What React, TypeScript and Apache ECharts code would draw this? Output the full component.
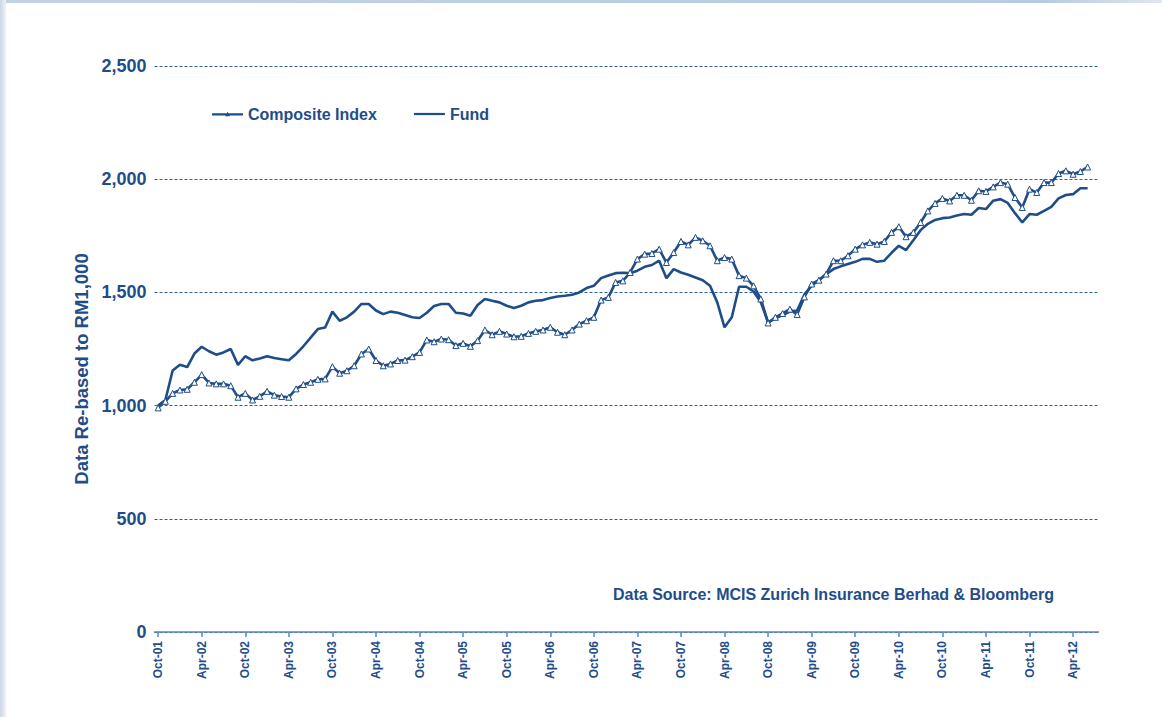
import React, { useEffect, useRef } from "react";
import * as echarts from "echarts";

const MONTH_NAMES = ["Jan", "Feb", "Mar", "Apr", "May", "Jun", "Jul", "Aug", "Sep", "Oct", "Nov", "Dec"];
// Monthly categories from Oct-01 to Jul-12 (last one has no data)
const START_YEAR = 2001;
const START_MONTH = 9;
const CATEGORY_COUNT = 130;
const categories: string[] = [];
for (let i = 0; i < CATEGORY_COUNT; i++) {
  const m = (START_MONTH + i) % 12;
  const y = START_YEAR + Math.floor((START_MONTH + i) / 12);
  categories.push(`${MONTH_NAMES[m]}-${String(y % 100).padStart(2, "0")}`);
}

const compositeIndex = [
  990, 1019, 1054, 1069, 1072, 1103, 1137, 1100, 1096, 1096, 1088, 1037,
  1054, 1025, 1041, 1063, 1046, 1040, 1037, 1074, 1093, 1103, 1116, 1118,
  1172, 1143, 1154, 1176, 1228, 1250, 1199, 1176, 1184, 1199, 1201, 1216,
  1235, 1290, 1282, 1294, 1291, 1265, 1275, 1262, 1287, 1334, 1313, 1328,
  1316, 1304, 1306, 1319, 1328, 1334, 1346, 1324, 1313, 1334, 1360, 1375,
  1390, 1466, 1478, 1544, 1551, 1588, 1647, 1669, 1672, 1691, 1632, 1676,
  1725, 1710, 1743, 1728, 1706, 1640, 1654, 1647, 1574, 1563, 1529, 1471,
  1365, 1390, 1407, 1426, 1402, 1480, 1537, 1554, 1581, 1640, 1640, 1662,
  1691, 1710, 1721, 1713, 1725, 1765, 1790, 1746, 1765, 1809, 1860, 1893,
  1915, 1904, 1929, 1929, 1907, 1949, 1946, 1966, 1985, 1978, 1919, 1875,
  1956, 1941, 1985, 1985, 2025, 2037, 2022, 2034, 2054,
];

const fund = [
  1000, 1025, 1155, 1180, 1170, 1230, 1260, 1240, 1225, 1235, 1250, 1180,
  1218, 1200, 1208, 1218, 1210, 1205, 1200, 1228, 1262, 1300, 1338, 1345,
  1415, 1375, 1390, 1415, 1449, 1449, 1420, 1404, 1415, 1410, 1400, 1390,
  1387, 1410, 1440, 1449, 1449, 1410, 1407, 1397, 1444, 1471, 1463, 1456,
  1441, 1431, 1441, 1456, 1463, 1466, 1475, 1482, 1485, 1490, 1500, 1519,
  1529, 1563, 1575, 1585, 1587, 1585, 1596, 1613, 1621, 1640, 1563, 1603,
  1588, 1578, 1566, 1554, 1529, 1456, 1346, 1390, 1525, 1525, 1504, 1456,
  1368, 1385, 1400, 1415, 1420, 1490, 1530, 1555, 1580, 1603, 1615, 1625,
  1635, 1648, 1648, 1635, 1640, 1675, 1706, 1687, 1730, 1775, 1803, 1820,
  1828, 1831, 1840, 1846, 1843, 1873, 1868, 1905, 1912, 1895, 1850, 1809,
  1846, 1843, 1860, 1878, 1915, 1930, 1934, 1960, 1960,
];

const Y_MIN = 0;
const Y_MAX = 2500;
const Y_INTERVAL = 500;

const SERIES_NAMES = ["Composite Index", "Fund"];
const Y_AXIS_TITLE = "Data Re-based to RM1,000";
const SOURCE_NOTE = "Data Source: MCIS Zurich Insurance Berhad & Bloomberg";

const NAVY = "#1f4d8a";
const FONT = "'Liberation Sans', Arial, sans-serif";

export default function App() {
  const ref = useRef<HTMLDivElement>(null);

  useEffect(() => {
    if (!ref.current) return;
    const chart = echarts.init(ref.current, undefined, { renderer: "svg" });
    chart.setOption({
      animation: false,
      backgroundColor: "#ffffff",
      textStyle: { fontFamily: FONT },
      grid: { left: 154.5, right: 63.5, top: 66, bottom: 85, containLabel: false },
      legend: {
        left: 212,
        top: 106,
        padding: 0,
        itemWidth: 31,
        itemHeight: 10,
        itemGap: 37,
        data: [
          {
            name: SERIES_NAMES[0],
            icon: "path://M0,4 H31 V6.2 H0 Z M13.2,7 L15.5,2.5 L17.8,7 Z",
            itemStyle: { color: NAVY, borderWidth: 0 },
          },
          {
            name: SERIES_NAMES[1],
            icon: "path://M0,0 H31 V2.2 H0 Z",
            itemStyle: { color: NAVY, borderWidth: 0 },
          },
        ],
        textStyle: { fontSize: 16, fontWeight: "bold", color: NAVY, fontFamily: FONT },
      },
      xAxis: {
        type: "category",
        data: categories,
        boundaryGap: true,
        axisLine: { show: true, lineStyle: { color: "#5b87bb", width: 1.5 } },
        axisTick: { show: true, alignWithLabel: true, interval: 5, length: 5, lineStyle: { color: "#5b87bb", width: 1.5 } },
        axisLabel: {
          interval: 5,
          rotate: 90,
          margin: 9,
          fontSize: 12,
          fontWeight: "bold",
          color: NAVY,
          fontFamily: FONT,
        },
        splitLine: { show: false },
      },
      yAxis: {
        type: "value",
        min: Y_MIN,
        max: Y_MAX,
        interval: Y_INTERVAL,
        axisLine: { show: false },
        axisTick: { show: false },
        axisLabel: {
          margin: 8,
          fontSize: 18,
          fontWeight: "bold",
          color: NAVY,
          fontFamily: FONT,
          formatter: (v: number) => v.toLocaleString("en-US"),
        },
        splitLine: { show: true, lineStyle: { color: "#2f5f9e", width: 1, type: [3, 2] } },
      },
      series: [
        {
          name: SERIES_NAMES[1],
          type: "line",
          data: fund,
          symbol: "none",
          lineStyle: { color: NAVY, width: 2.6 },
          itemStyle: { color: NAVY },
          z: 2,
        },
        {
          name: SERIES_NAMES[0],
          type: "line",
          data: compositeIndex,
          symbol: "triangle",
          symbolSize: 6,
          showAllSymbol: true,
          lineStyle: { color: NAVY, width: 2.6 },
          itemStyle: { color: "#ffffff", borderColor: NAVY, borderWidth: 1 },
          z: 3,
        },
      ],
      graphic: [
        {
          type: "rect",
          left: 0,
          top: 0,
          shape: { width: 1162, height: 3 },
          style: {
            fill: new echarts.graphic.LinearGradient(0, 0, 1, 0, [
              { offset: 0, color: "#c3d2e3" },
              { offset: 0.9, color: "#b9cbe0" },
              { offset: 1, color: "#dfe7f1" },
            ]),
          },
          silent: true,
        },
        {
          type: "rect",
          left: 0,
          top: 0,
          shape: { width: 6, height: 717 },
          style: {
            fill: new echarts.graphic.LinearGradient(0, 0, 1, 0, [
              { offset: 0, color: "#c9d6e5" },
              { offset: 1, color: "#eef2f7" },
            ]),
          },
          silent: true,
        },
        {
          type: "text",
          x: 81,
          y: 369,
          rotation: Math.PI / 2,
          style: {
            text: Y_AXIS_TITLE,
            fill: NAVY,
            fontSize: 18.5,
            fontWeight: "bold",
            fontFamily: FONT,
            textAlign: "center",
            textVerticalAlign: "middle",
          },
        },
        {
          type: "text",
          left: 613,
          top: 586,
          style: {
            text: SOURCE_NOTE,
            fill: NAVY,
            fontSize: 16,
            fontWeight: "bold",
            fontFamily: FONT,
          },
        },
      ],
    });
    return () => chart.dispose();
  }, []);

  return (
    <div
      ref={ref}
      style={{ position: "absolute", left: 0, top: 0, width: 1162, height: 717 }}
    />
  );
}
